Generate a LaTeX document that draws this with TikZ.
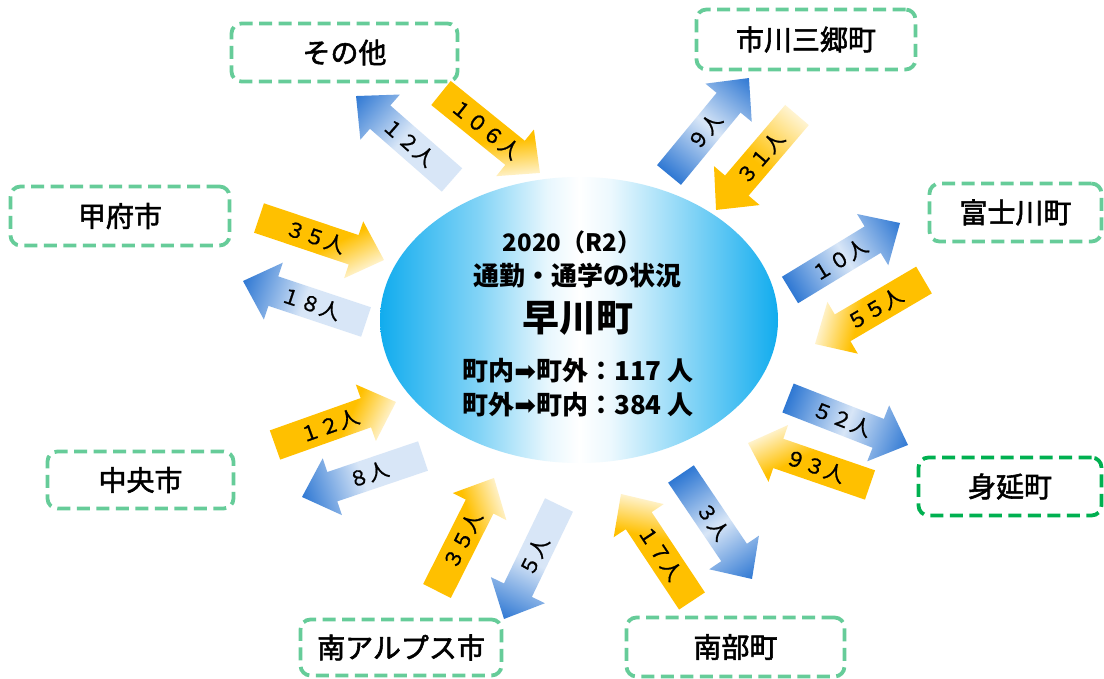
\documentclass[tikz,border=0pt]{standalone}
\usepackage{fontspec}
\setmainfont{Noto Sans CJK JP}
\newfontfamily\jpmed{Noto Sans CJK JP}[FakeBold=2]
\newfontfamily\jplab{Noto Sans CJK JP}[FakeBold=1]
\newfontfamily\djv{DejaVu Sans}
\usetikzlibrary{calc,shapes.geometric}
\definecolor{boxg}{HTML}{66CC99}
\definecolor{boxdg}{HTML}{00B050}
\definecolor{ay}{HTML}{FFC000}
\definecolor{ayl}{HTML}{FFF4D2}
\definecolor{ab}{HTML}{2F78D3}
\definecolor{abl}{HTML}{D8E6F7}
\definecolor{ecy}{HTML}{11ACEE}
\pgfdeclarehorizontalshading{ellsh}{100bp}{color(0bp)=(ecy); color(25bp)=(ecy);
  color(37.5bp)=(ecy!52!white); color(46bp)=(ecy!10!white); color(50bp)=(white);
  color(54bp)=(ecy!8!white); color(62.5bp)=(ecy!45!white); color(75bp)=(ecy); color(100bp)=(ecy)}
\pgfdeclareverticalshading{yelsh}{100bp}{color(0bp)=(ayl); color(25bp)=(ayl);
  color(45bp)=(ay); color(100bp)=(ay)}
\tikzset{
  box/.style={draw=boxg, line width=3.8pt, dash pattern=on 13pt off 6.5pt,
    rounded corners=10pt, inner sep=0pt, font=\jpmed\fontsize{28pt}{32pt}\selectfont},
  alabel/.style={inner sep=0pt, font=\jplab\fontsize{20.5pt}{22pt}\selectfont},
  yel/.style={shading=yelsh, shading angle=45},
  yeltail/.style={left color=ayl, right color=ay, middle color=ay},
  bluer/.style={left color=ab, right color=ab, middle color=abl},
  bluel/.style={left color=abl, right color=ab, middle color=abl},
  etext/.style={inner sep=0pt, font=\bfseries\fontsize{26pt}{30pt}\selectfont}
}
\newcommand\blockarrow[5]{%
  \path let \p1=(#1), \p2=(#2) in \pgfextra{%
    \pgfmathsetmacro\tmpA{atan2(\y2-\y1,\x2-\x1)}%
    \pgfmathsetmacro\tmpL{veclen(\x2-\x1,\y2-\y1)}%
    \xdef\Aang{\tmpA}\xdef\Alen{\tmpL}\xdef\Ax{\x1}\xdef\Ay{\y1}};
  \pgfmathsetmacro\Ab{\Alen-32}%
  \pgfmathsetmacro\Tang{\Aang>90 ? \Aang-180 : (\Aang<-90 ? \Aang+180 : \Aang)}%
  \begin{scope}[transform canvas={shift={(\Ax,\Ay)},rotate=\Aang}]
    \shade[#3] (0pt,-15.5pt) -- (\Ab pt,-15.5pt) -- (\Ab pt,-30pt) -- (\Alen pt,0pt)
      -- (\Ab pt,30pt) -- (\Ab pt,15.5pt) -- (0pt,15.5pt) -- cycle;
  \end{scope}
  \node[alabel,rotate=\Tang] (#5) at ($(#1)!0.45!(#2)$) {#4};
}
\begin{document}
\begin{tikzpicture}[x=1pt,y=-1pt]
\useasboundingbox (0,0) rectangle (1104,679);
\fill[white] (0,0) rectangle (1104,679);

% central ellipse
\node[ellipse, minimum width=398pt, minimum height=286pt, inner sep=0pt,
  shading=ellsh] (hay) at (579,320) {};
\node[etext, font=\bfseries\fontsize{24pt}{28pt}\selectfont] (e1) at (572,242) {2020（R2）};
\node[etext] (e2) at (577,276) {通勤・通学の状況};
\node[etext, font=\bfseries\fontsize{37pt}{40pt}\selectfont] (e3) at (578,318) {早川町};
\node[etext] (e4) at (578,371) {町内{\djv ➡}町外：117 人};
\node[etext] (e5) at (578,405) {町外{\djv ➡}町内：384 人};

% municipality boxes
\node[box, minimum width=226pt, minimum height=58pt] (other) at (344.5,52.5) {その他};
\node[box, minimum width=219pt, minimum height=60pt] (ichikawa) at (806,39.5) {市川三郷町};
\node[box, minimum width=219pt, minimum height=59pt] (kofu) at (120,216) {甲府市};
\node[box, minimum width=172pt, minimum height=58pt] (fujikawa) at (1015.5,212.5) {富士川町};
\node[box, draw=boxdg, minimum width=183pt, minimum height=58pt] (minobu) at (1010,486.5) {身延町};
\node[box, minimum width=186pt, minimum height=57pt] (chuo) at (140.5,480) {中央市};
\node[box, minimum width=201pt, minimum height=56pt] (alps) at (401,647.5) {南アルプス市};
\node[box, minimum width=218pt, minimum height=59pt] (nanbu) at (735.5,647) {南部町};

% arrow end points
\coordinate (t1) at (452,180);  \coordinate (h1) at (356,96);
\coordinate (t2) at (441,93);   \coordinate (h2) at (540,173);
\coordinate (t3) at (669,175);  \coordinate (h3) at (749,78);
\coordinate (t4) at (797,115);  \coordinate (h4) at (716,210);
\coordinate (t5) at (259,218);  \coordinate (h5) at (384,260);
\coordinate (t6) at (366,322);  \coordinate (h6) at (243,281);
\coordinate (t7) at (790,290);  \coordinate (h7) at (900,223);
\coordinate (t8) at (924,280);  \coordinate (h8) at (815,344);
\coordinate (t9) at (788,398);  \coordinate (h9) at (908,445);
\coordinate (t10) at (870,485); \coordinate (h10) at (748,443);
\coordinate (t11) at (275,445); \coordinate (h11) at (396,402);
\coordinate (t12) at (423,456); \coordinate (h12) at (302,497);
\coordinate (t13) at (437,591); \coordinate (h13) at (494,478);
\coordinate (t14) at (559,505); \coordinate (h14) at (504,619);
\coordinate (t15) at (681,474); \coordinate (h15) at (752,579);
\coordinate (t16) at (692,601); \coordinate (h16) at (621,494);

\blockarrow{t1}{h1}{bluel}{１２人}{l1}
\blockarrow{t2}{h2}{yel}{１０６人}{l2}
\blockarrow{t3}{h3}{bluer}{９人}{l3}
\blockarrow{t4}{h4}{yeltail}{３１人}{l4}
\blockarrow{t5}{h5}{yel}{３５人}{l5}
\blockarrow{t6}{h6}{bluel}{１８人}{l6}
\blockarrow{t7}{h7}{bluer}{１０人}{l7}
\blockarrow{t8}{h8}{yel}{５５人}{l8}
\blockarrow{t9}{h9}{bluer}{５２人}{l9}
\blockarrow{t10}{h10}{yel}{９３人}{l10}
\blockarrow{t11}{h11}{yel}{１２人}{l11}
\blockarrow{t12}{h12}{bluel}{８人}{l12}
\blockarrow{t13}{h13}{yel}{３５人}{l13}
\blockarrow{t14}{h14}{bluel}{５人}{l14}
\blockarrow{t15}{h15}{bluer}{３人}{l15}
\blockarrow{t16}{h16}{yel}{１７人}{l16}
\end{tikzpicture}
\end{document}
